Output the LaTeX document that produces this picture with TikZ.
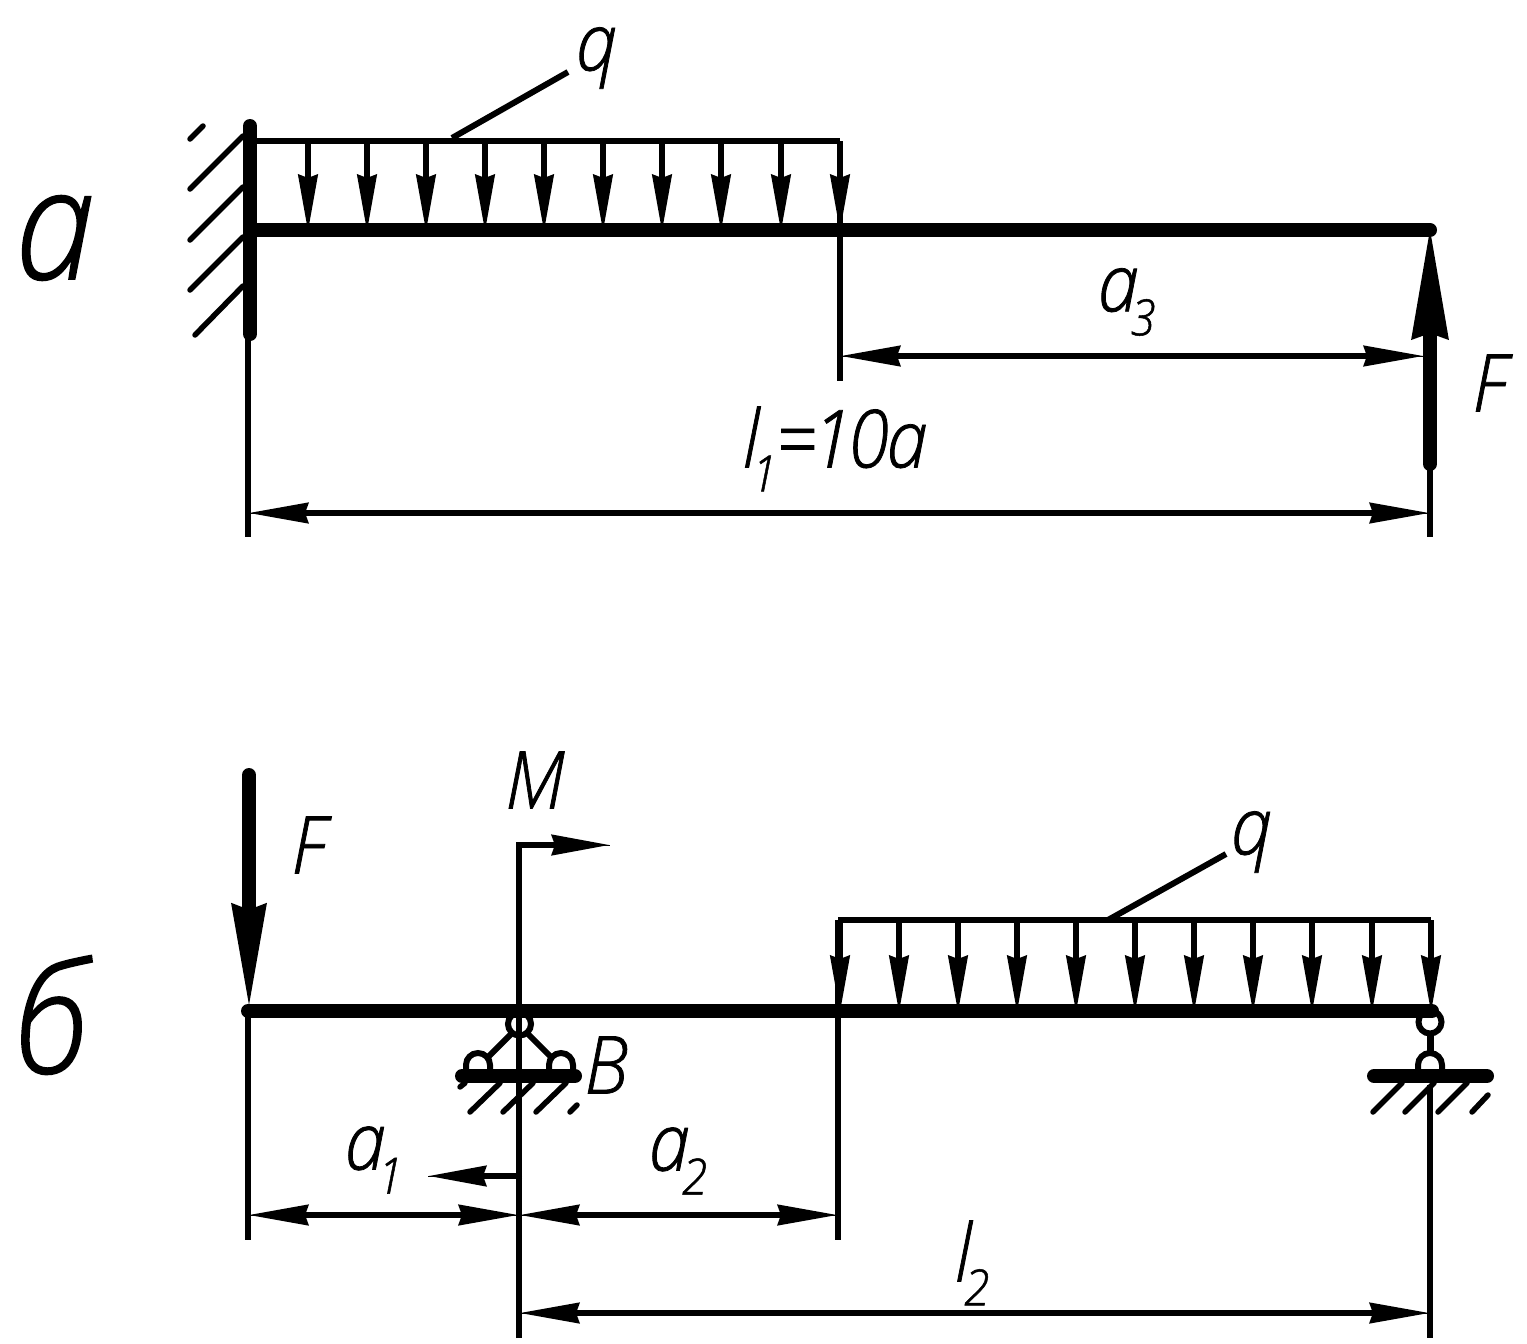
\documentclass[tikz,border=0pt]{standalone}
\usepackage{fontspec}
\setmainfont[FakeStretch=.92,FakeBold=1]{Open Sans Light Italic}
\usetikzlibrary{arrows.meta}
\tikzset{
  thinline/.style={line width=6pt},
  thickline/.style={line width=14pt,line cap=round},
  hatchline/.style={line width=5.5pt,line cap=round},
  loadarrow/.style={line width=6pt,preaction={draw,-},-{Stealth[length=57pt,width=19pt,inset=3pt]}},
  dimline/.style={line width=6pt,preaction={draw,-},{Stealth[length=60pt,width=20pt,inset=3pt]}-{Stealth[length=60pt,width=20pt,inset=3pt]}},
  momarrow/.style={line width=6pt,preaction={draw,-},-{Stealth[length=58pt,width=20pt,inset=3pt]}},
  txt/.style={font=\fontsize{80}{80}\selectfont,inner sep=0pt},
  bigtxt/.style={font=\fontsize{155}{155}\selectfont,inner sep=0pt},
}
\newcommand{\lowidx}[1]{\kern-.1em\raisebox{-.3em}{\fontsize{50}{50}\selectfont #1}}
\begin{document}
\begin{tikzpicture}[x=1pt,y=-1pt]
\useasboundingbox (0,0) rectangle (1527,1344);
% scheme a
\node[bigtxt] (labela) at (55,238) {а};
\coordinate (wallt) at (250,126);
\coordinate (wallb) at (250,334);
\coordinate (endA) at (1430,230);
\draw[thinline] (248,332) -- (248,537);
\foreach \y/\s in {139/203,189/243,240/243,290/243} {
  \draw[hatchline] (190,\y) -- +(\s-190,190-\s);
}
\draw[hatchline] (195,335) -- (243,286);
\draw[thinline] (250,141) -- (840,141);
\foreach \x in {308,367,426,485,544,603,662,721,781,840} {
  \draw[loadarrow] (\x,141) -- (\x,232);
}
\draw[thinline] (840,141) -- (840,381);
\draw[line width=14pt,line cap=round,-{Stealth[length=113pt,width=34pt,inset=4pt]}] (1430,464) -- (1430,224);
\draw[thickline] (wallt) -- (wallb);
\draw[thickline] (250,230) -- (endA);
\draw[thinline] (452,138) -- (568,72);
\node[txt] (qa) at (597,58) {q};
\draw[thinline] (1430,466) -- (1430,537);
\node[txt] (Fa) at (1490,383) {F};
\draw[dimline] (840,356) -- (1424,356);
\node[txt] (a3) at (1127,302) {a\lowidx{3}};
\draw[dimline] (248,513) -- (1430,513);
\node[txt] (l1) at (835,449) {l\lowidx{1}\kern-.02em=\kern-.05em 1\kern-.05em 0\kern-.03em a};
% scheme b
\node[bigtxt] (labelb) at (52,1015) {б};
\draw[line width=14pt,-{Stealth[length=105pt,width=32pt,inset=4pt]}] (249,775) -- (249,1011);
\draw[thickline] (249,775) -- (249,900);
\draw[thinline] (248,1011) -- (248,1240);
\node[txt] (Fb) at (309,845) {F};
\draw[thinline] (519,1338) -- (519,845);
\draw[momarrow] (516,845) -- (610,845);
\draw[momarrow] (522,1176) -- (428,1176);
\node[txt] (M) at (535,780) {M};
\node[txt] (B) at (606,1065) {B};
% support B
\draw[thinline] (519.5,1024) circle (11.5);
\draw[thinline] (511,1034) -- (487,1058);
\draw[thinline] (528,1034) -- (552,1058);
\foreach \x in {478,561} {
  \draw[thinline] (\x-12,1076) -- (\x-12,1065) arc (180:0:12 and -12) -- (\x+12,1076);
}
\draw[thickline] (462,1076) -- (575,1076);
\foreach \x in {470,503,536} {
  \draw[hatchline] (\x,1112) -- +(30,-29);
}
\draw[hatchline] (460,1087) -- (465,1083);
\draw[hatchline] (570,1112) -- (577,1105);
% right support
\draw[thinline] (1430,1022) circle (11.5);
\draw[line width=7pt] (1430,1034) -- (1430,1053);
\draw[thinline] (1418,1076) -- (1418,1065) arc (180:0:12 and -12) -- (1442,1076);
\draw[thickline] (1374,1076) -- (1487,1076);
\foreach \x in {1373,1405,1438} {
  \draw[hatchline] (\x,1112) -- +(29,-29);
}
\draw[hatchline] (1472,1112) -- (1488,1095);
\draw[thinline] (1430,1085) -- (1430,1338);
% load q
\draw[thinline] (838,920) -- (1431,920);
\foreach \x in {840,899,958,1017,1076,1135,1194,1253,1312,1372,1431} {
  \draw[loadarrow] (\x,920) -- (\x,1013);
}
\draw[thinline] (838,920) -- (838,1240);
\draw[thickline] (248,1011) -- (1432,1011);
\draw[thinline] (1108,920) -- (1226,854);
\node[txt] (qb) at (1252,842) {q};
% dimensions
\draw[dimline] (248,1215) -- (519,1215);
\draw[dimline] (519,1215) -- (838,1215);
\draw[dimline] (519,1313) -- (1430,1313);
\node[txt] (a1) at (374,1160) {a\lowidx{1}};
\node[txt] (a2) at (678,1161) {a\lowidx{2}};
\node[txt] (l2) at (972,1263) {l\lowidx{2}};
\end{tikzpicture}
\end{document}
